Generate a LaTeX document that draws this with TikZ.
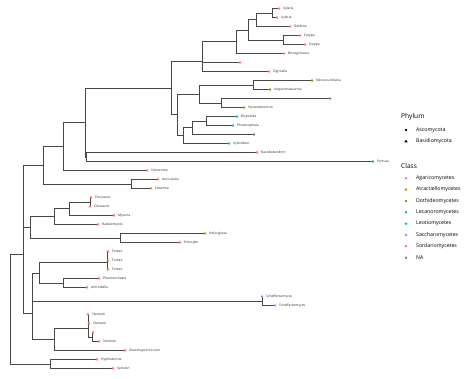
\documentclass[tikz,border=0pt]{standalone}
\usepackage{fontspec}
\setmainfont{Open Sans}
\usetikzlibrary{shapes.geometric}
\definecolor{cAg}{HTML}{F8766D}
\definecolor{cAt}{HTML}{C49A00}
\definecolor{cDo}{HTML}{53B400}
\definecolor{cLe}{HTML}{00C094}
\definecolor{cLo}{HTML}{00B6EB}
\definecolor{cSa}{HTML}{A58AFF}
\definecolor{cSo}{HTML}{FB61D7}
\definecolor{cNA}{HTML}{7F7F7F}
\begin{document}
\begin{tikzpicture}[x=1pt,y=-1pt,
  br/.style={draw=black!72, line width=0.75pt},
  asc/.style={circle, inner sep=0pt, minimum size=2.6pt},
  bas/.style={regular polygon, regular polygon sides=3, inner sep=0pt, minimum size=3.8pt},
  lab/.style={anchor=west, font=\fontsize{3.3}{4}\selectfont, inner sep=0pt, text=black!85},
  legt/.style={anchor=west, font=\fontsize{6.6}{8}\selectfont, inner sep=0pt},
  legi/.style={anchor=west, font=\fontsize{5.2}{6}\selectfont, inner sep=0pt}]
\useasboundingbox (0,0) rectangle (474,379);
% tips
\coordinate (t1) at (279,8.5);
\coordinate (t2) at (277,17.5);
\coordinate (t3) at (290,26.5);
\coordinate (t4) at (300,35.5);
\coordinate (t5) at (305,44.5);
\coordinate (t6) at (284,53.5);
\coordinate (t7) at (240,62.5);
\coordinate (t8) at (269,71.5);
\coordinate (t9) at (312,80.5);
\coordinate (t10) at (270,89.5);
\coordinate (t11) at (330,98.5);
\coordinate (t12) at (244,107.5);
\coordinate (t13) at (237,116.5);
\coordinate (t14) at (233,125.5);
\coordinate (t15) at (254,134.5);
\coordinate (t16) at (229,143.5);
\coordinate (t17) at (257,152.5);
\coordinate (t18) at (373,161.5);
\coordinate (t19) at (147,170.5);
\coordinate (t20) at (158,179.5);
\coordinate (t21) at (151,188.5);
\coordinate (t22) at (91,197.5);
\coordinate (t23) at (90,206.5);
\coordinate (t24) at (114,215.5);
\coordinate (t25) at (98,224.5);
\coordinate (t26) at (205,233.5);
\coordinate (t27) at (180,242.5);
\coordinate (t28) at (108,251.5);
\coordinate (t29) at (108,260.5);
\coordinate (t30) at (108,269.5);
\coordinate (t31) at (99,278.5);
\coordinate (t32) at (87,287.5);
\coordinate (t33) at (262,296.5);
\coordinate (t34) at (275,305.5);
\coordinate (t35) at (88,314.5);
\coordinate (t36) at (89,323.5);
\coordinate (t37) at (93,332.5);
\coordinate (t38) at (99,341.5);
\coordinate (t39) at (125,350.5);
\coordinate (t40) at (97,359.5);
\coordinate (t41) at (113,368.5);
% internal nodes
\coordinate (Xy) at (272,13);
\coordinate (D) at (256,19.75);
\coordinate (E) at (283,40);
\coordinate (DE) at (248,29.9);
\coordinate (B) at (236,41.7);
\coordinate (S) at (202,61.8);
\coordinate (NA) at (253,85);
\coordinate (NH) at (221,103);
\coordinate (Do) at (199,94);
\coordinate (L1) at (206,121);
\coordinate (L2) at (192,127.75);
\coordinate (L3) at (183,135.6);
\coordinate (LD) at (177,114.8);
\coordinate (As) at (171,88.3);
\coordinate (BP) at (86,157);
\coordinate (AB) at (85,122.65);
\coordinate (N63) at (63,146.6);
\coordinate (Au) at (131,184);
\coordinate (N43) at (43,165.3);
\coordinate (Os) at (90,202);
\coordinate (N69) at (69,208.75);
\coordinate (N54) at (54,216.6);
\coordinate (He) at (120,238);
\coordinate (N30) at (30,227.3);
\coordinate (N23a) at (23,196.3);
\coordinate (F12) at (107.5,256);
\coordinate (F) at (107,262.75);
\coordinate (PA) at (63,283);
\coordinate (N39) at (39,272.9);
\coordinate (Sc) at (262,301);
\coordinate (Q) at (32,286.95);
\coordinate (S12) at (88,319);
\coordinate (S34) at (92,337);
\coordinate (S1) at (88,328);
\coordinate (N54b) at (54,339.25);
\coordinate (P) at (32,313.1);
\coordinate (N23b) at (23,254.7);
\coordinate (HX) at (50,364);
\coordinate (R) at (10,309.35);
% branches
\foreach \a/\b in {Xy/t1,Xy/t2,D/Xy,D/t3,E/t4,E/t5,DE/D,DE/E,B/DE,B/t6,S/B,S/t7,S/t8,
  NA/t9,NA/t10,NH/t11,NH/t12,Do/NA,Do/NH,L1/t13,L1/t14,L2/L1,L2/t15,L3/L2,L3/t16,
  LD/Do,LD/L3,As/S,As/LD,BP/t17,BP/t18,AB/As,AB/BP,N63/AB,N63/t19,Au/t20,Au/t21,
  N43/N63,N43/Au,Os/t22,Os/t23,N69/Os,N69/t24,N54/N69,N54/t25,He/t26,He/t27,
  N30/N54,N30/He,N23a/N43,N23a/N30,F12/t28,F12/t29,F/F12,F/t30,PA/t31,PA/t32,
  N39/F,N39/PA,Sc/t33,Sc/t34,Q/N39,Q/Sc,S12/t35,S12/t36,S34/t37,S34/t38,S1/S12,S1/S34,
  N54b/S1,N54b/t39,P/Q,P/N54b,N23b/N23a,N23b/P,HX/t40,HX/t41,R/N23b,R/HX}
  \draw[br] (\a) |- (\b);
% markers
\foreach \t/\s/\c in {t1/asc/cSo,t2/asc/cSo,t3/asc/cSo,t4/asc/cSo,t5/asc/cSo,t6/asc/cSo,t7/asc/cSo,t8/asc/cSo,
  t9/asc/cDo,t10/asc/cDo,t11/asc/cNA,t12/asc/cDo,t13/asc/cLo,t14/asc/cLo,t15/asc/cNA,t16/asc/cLo,
  t17/bas/cAg,t18/asc/cLe,t19/bas/cAg,t20/bas/cAg,t21/bas/cAg,t22/bas/cAg,t23/bas/cAg,t24/bas/cAg,
  t25/bas/cAg,t26/bas/cAt,t27/bas/cAg,t28/bas/cAg,t29/bas/cAg,t30/bas/cAg,t31/bas/cAg,t32/bas/cAg,
  t33/asc/cSa,t34/asc/cSa,t35/bas/cAg,t36/bas/cAg,t37/bas/cAg,t38/bas/cAg,t39/bas/cAg,t40/bas/cAg,t41/bas/cAg}
  \node[\s, fill=\c] (m\t) at (\t) {};
% labels
\foreach \t/\l in {t1/Xylaria,t2/Xylaria,t3/Daldinia,t4/Eutypa,t5/Eutypa,t6/Biscogniauxia,t8/Zignoella,
  t9/Neocucurbitaria,t10/Angustimassarina,t12/Hysterobrevium,t13/Bisporella,t14/Phialocephala,
  t16/Xylotidium,t17/Basidiodendron,t18/Pertusa,t19/Sistotrema,t20/Auricularia,t21/Elmerina,
  t22/Ossicaulis,t23/Ossicaulis,t24/Mycena,t25/Radulomyces,t26/Helicogloea,t27/Entocybe,
  t28/Fomes,t29/Fomes,t30/Fomes,t31/Phanerochaete,t32/Antrodiella,t33/Scheffersomyces,
  t34/Scheffersomyces,t35/Stereum,t36/Stereum,t38/Stereum,t39/Gloeohypochnicium,
  t40/Hyphoderma,t41/Xylodon}
  \node[lab] (l\t) at ([xshift=4pt]\t) {\l};
% legend
\node[legt] (lgP) at (401,116.7) {Phylum};
\node[asc, fill=black, minimum size=2.8pt] (kA) at (406,130) {};
\node[legi] (kAl) at (416,130) {Ascomycota};
\node[bas, fill=black, minimum size=4pt] (kB) at (406,141.5) {};
\node[legi] (kBl) at (416,141.5) {Basidiomycota};
\node[legt] (lgC) at (401,165.7) {Class};
\foreach \i/\c/\l in {0/cAg/Agaricomycetes,1/cAt/Atractiellomycetes,2/cDo/Dothideomycetes,
  3/cLe/Lecanoromycetes,4/cLo/Leotiomycetes,5/cSa/Saccharomycetes,6/cSo/Sordariomycetes,7/cNA/NA}{
  \node[asc, fill=\c, minimum size=2.8pt] (k\i) at (406,178.3+11.34*\i) {};
  \node[legi] (kl\i) at (416,178.3+11.34*\i) {\l};
}
\end{tikzpicture}
\end{document}
